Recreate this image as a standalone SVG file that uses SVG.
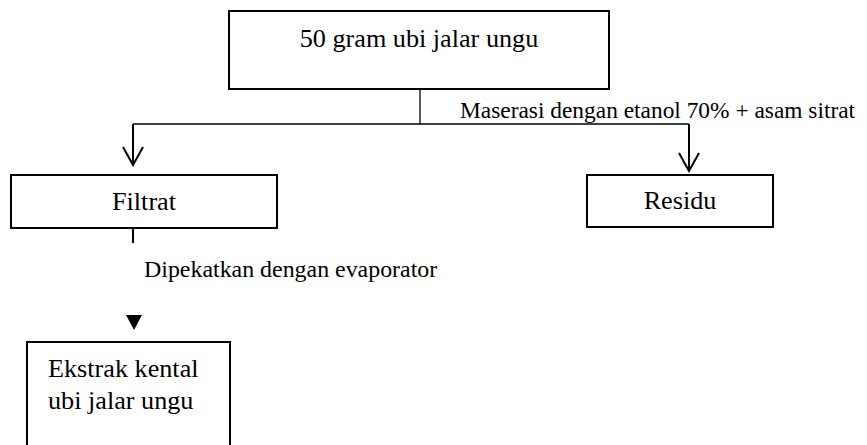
<svg xmlns="http://www.w3.org/2000/svg" width="867" height="445" viewBox="0 0 867 445">
  <style>
    .box { fill: #ffffff; stroke: #000000; stroke-width: 2; }
    text { font-family: 'Liberation Serif', 'Times New Roman', 'DejaVu Serif', serif; fill: #000000; }
    .big { font-size: 26.2px; }
    .lbl { font-size: 23.4px; }
    .lbl2 { font-size: 23.9px; }
    .thin { fill: none; stroke: #000000; stroke-width: 1.3; }
    .thick { fill: none; stroke: #000000; stroke-width: 2; }
  </style>
  <defs>
    <marker id="vee" markerUnits="userSpaceOnUse" viewBox="-21 -12 23 24" refX="0" refY="0" markerWidth="23" markerHeight="24" orient="auto">
      <path d="M-18,-10 L0,0 L-18,10" fill="none" stroke="#000000" stroke-width="2"/>
    </marker>
  </defs>
  <rect width="867" height="445" fill="#ffffff"/>

  <g id="connectors">
    <line class="thin" x1="420" y1="89" x2="420" y2="124"/>
    <line class="thin" x1="133" y1="124" x2="689" y2="124"/>
    <line class="thick" x1="133" y1="124" x2="133" y2="165" marker-end="url(#vee)"/>
    <line class="thick" x1="689" y1="124" x2="689" y2="171" marker-end="url(#vee)"/>
    <text class="lbl" x="460" y="118">Maserasi dengan etanol 70% + asam sitrat</text>
    <line class="thick" x1="133" y1="228" x2="133" y2="243"/>
    <text class="lbl2" x="144" y="277">Dipekatkan dengan evaporator</text>
    <polygon points="126,315 142,315 134,330" fill="#000000"/>
  </g>

  <g id="node-ubi">
    <rect class="box" x="229" y="11" width="380" height="78"/>
    <text class="big" x="419" y="47" text-anchor="middle">50 gram ubi jalar ungu</text>
  </g>

  <g id="node-filtrat">
    <rect class="box" x="11" y="175" width="266" height="53"/>
    <text class="big" x="144" y="210" text-anchor="middle">Filtrat</text>
  </g>

  <g id="node-residu">
    <rect class="box" x="587" y="175" width="186" height="52"/>
    <text class="big" x="680" y="209" text-anchor="middle">Residu</text>
  </g>

  <g id="node-ekstrak">
    <rect class="box" x="27" y="342" width="203" height="120"/>
    <text class="big" x="48" y="377">Ekstrak kental</text>
    <text class="big" x="48" y="409">ubi jalar ungu</text>
  </g>
</svg>
